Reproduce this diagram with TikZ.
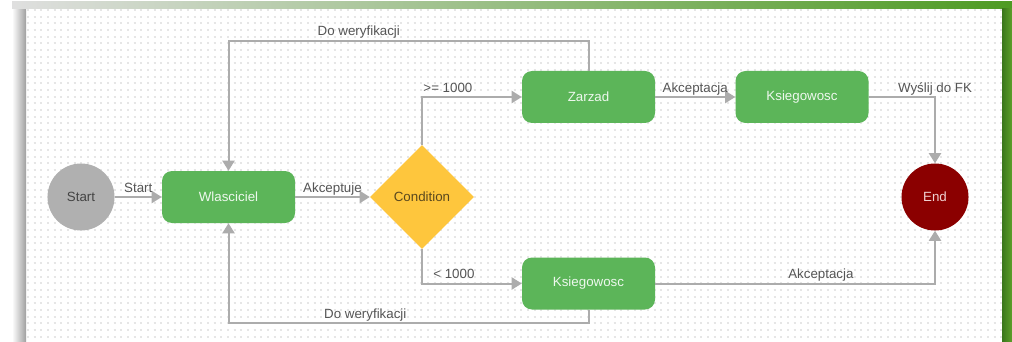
\documentclass[tikz,border=0pt]{standalone}
\usepackage{fontspec}
\setmainfont{Liberation Sans}
\usepackage{tikz}
\usetikzlibrary{positioning, arrows.meta, shapes.geometric}

\definecolor{cTask}{RGB}{92,181,89}
\definecolor{cTaskText}{RGB}{238,248,238}
\definecolor{cCond}{RGB}{254,198,61}
\definecolor{cCondText}{RGB}{90,72,30}
\definecolor{cStart}{RGB}{176,176,176}
\definecolor{cEnd}{RGB}{139,0,0}
\definecolor{cEndText}{RGB}{240,210,210}
\definecolor{cLine}{RGB}{172,172,172}
\definecolor{cLabel}{RGB}{85,85,85}
\definecolor{cDot}{RGB}{230,230,230}

\begin{document}
\begin{tikzpicture}[x=0.75pt,y=0.75pt,yscale=-1,xscale=1,
  font=\fontsize{10}{12}\selectfont,
  task/.style={draw=none, fill=cTask, text=cTaskText, rounded corners=7.5pt, minimum width=99.75pt, minimum height=39pt},
  terminal/.style={circle, draw=none, minimum size=50.25pt, inner sep=0pt},
  cond/.style={diamond, draw=none, fill=cCond, text=cCondText, minimum width=78pt, minimum height=78pt, inner sep=0pt},
  flow/.style={draw=cLine, line width=1.5pt, -{Triangle[length=7.5pt,width=9pt]}},
  lbl/.style={text=cLabel, anchor=south, inner sep=0.6pt, text height=0.75em, text depth=0.22em},
  dotrow/.style={draw=cDot, line width=1.5pt, dash pattern=on 1.5pt off 3.5pt}
]
\useasboundingbox (0,0) rectangle (1012,342);

%Shape: Rectangle (page)
\fill[white] (0,0) rectangle (1012,342);
%Shape: shadows round the canvas
\shade[left color=white, right color=gray!75] (12,9) rectangle (26,342);
\shade[left color=gray!25, middle color={rgb,255:red,190;green,220;blue,170}, right color={rgb,255:red,78;green,155;blue,35}] (12,2) rectangle (1012,9);
\shade[left color={rgb,255:red,58;green,118;blue,28}, right color={rgb,255:red,92;green,160;blue,42}] (1002,9) rectangle (1012,342);

%Shape: dot grid
\begin{scope}
\clip (26,9) rectangle (1002,342);
\foreach \r in {0,...,49}
  \draw[dotrow] (27,{10+\r*6.667}) -- (1002,{10+\r*6.667});
\end{scope}

% Nodes
\node[terminal, fill=cStart, text=cLabel!80!black] (start) at (81,197) {Start};
\node[task] (wl) at (228.5,197) {Wlasciciel};
\node[cond] (cond) at (422,197) {Condition};
\node[task] (zarzad) at (588.5,97) {Zarzad};
\node[task] (ksA) at (802,97) {Ksiegowosc};
\node[task] (ksB) at (588.5,283.5) {Ksiegowosc};
\node[terminal, fill=cEnd, text=cEndText] (end) at (935,197) {End};

%Straight Lines
\draw[flow] (start) -- node[lbl] {Start} (wl);
\draw[flow] (wl) -- node[lbl] {Akceptuje} (cond);
\draw[flow] (cond.north) |- node[lbl, pos=0.63] {>= 1000} (zarzad.west);
\draw[flow] (cond.south) |- node[lbl, pos=0.66] {< 1000} (ksB.west);
\draw[flow] (zarzad) -- node[lbl] {Akceptacja} (ksA);
\draw[flow] (ksA.east) -| node[lbl] {Wyślij do FK} (end.north);
\draw[flow] (ksB.east) -| node[lbl, pos=0.296] {Akceptacja} (end.south);
\draw[flow] (zarzad.north) -- ++(0,-30) -| node[lbl, pos=0.319] {Do weryfikacji} (wl.north);
\draw[flow] (ksB.south) -- ++(0,13) -| node[lbl, pos=0.31] {Do weryfikacji} (wl.south);

\end{tikzpicture}
\end{document}
